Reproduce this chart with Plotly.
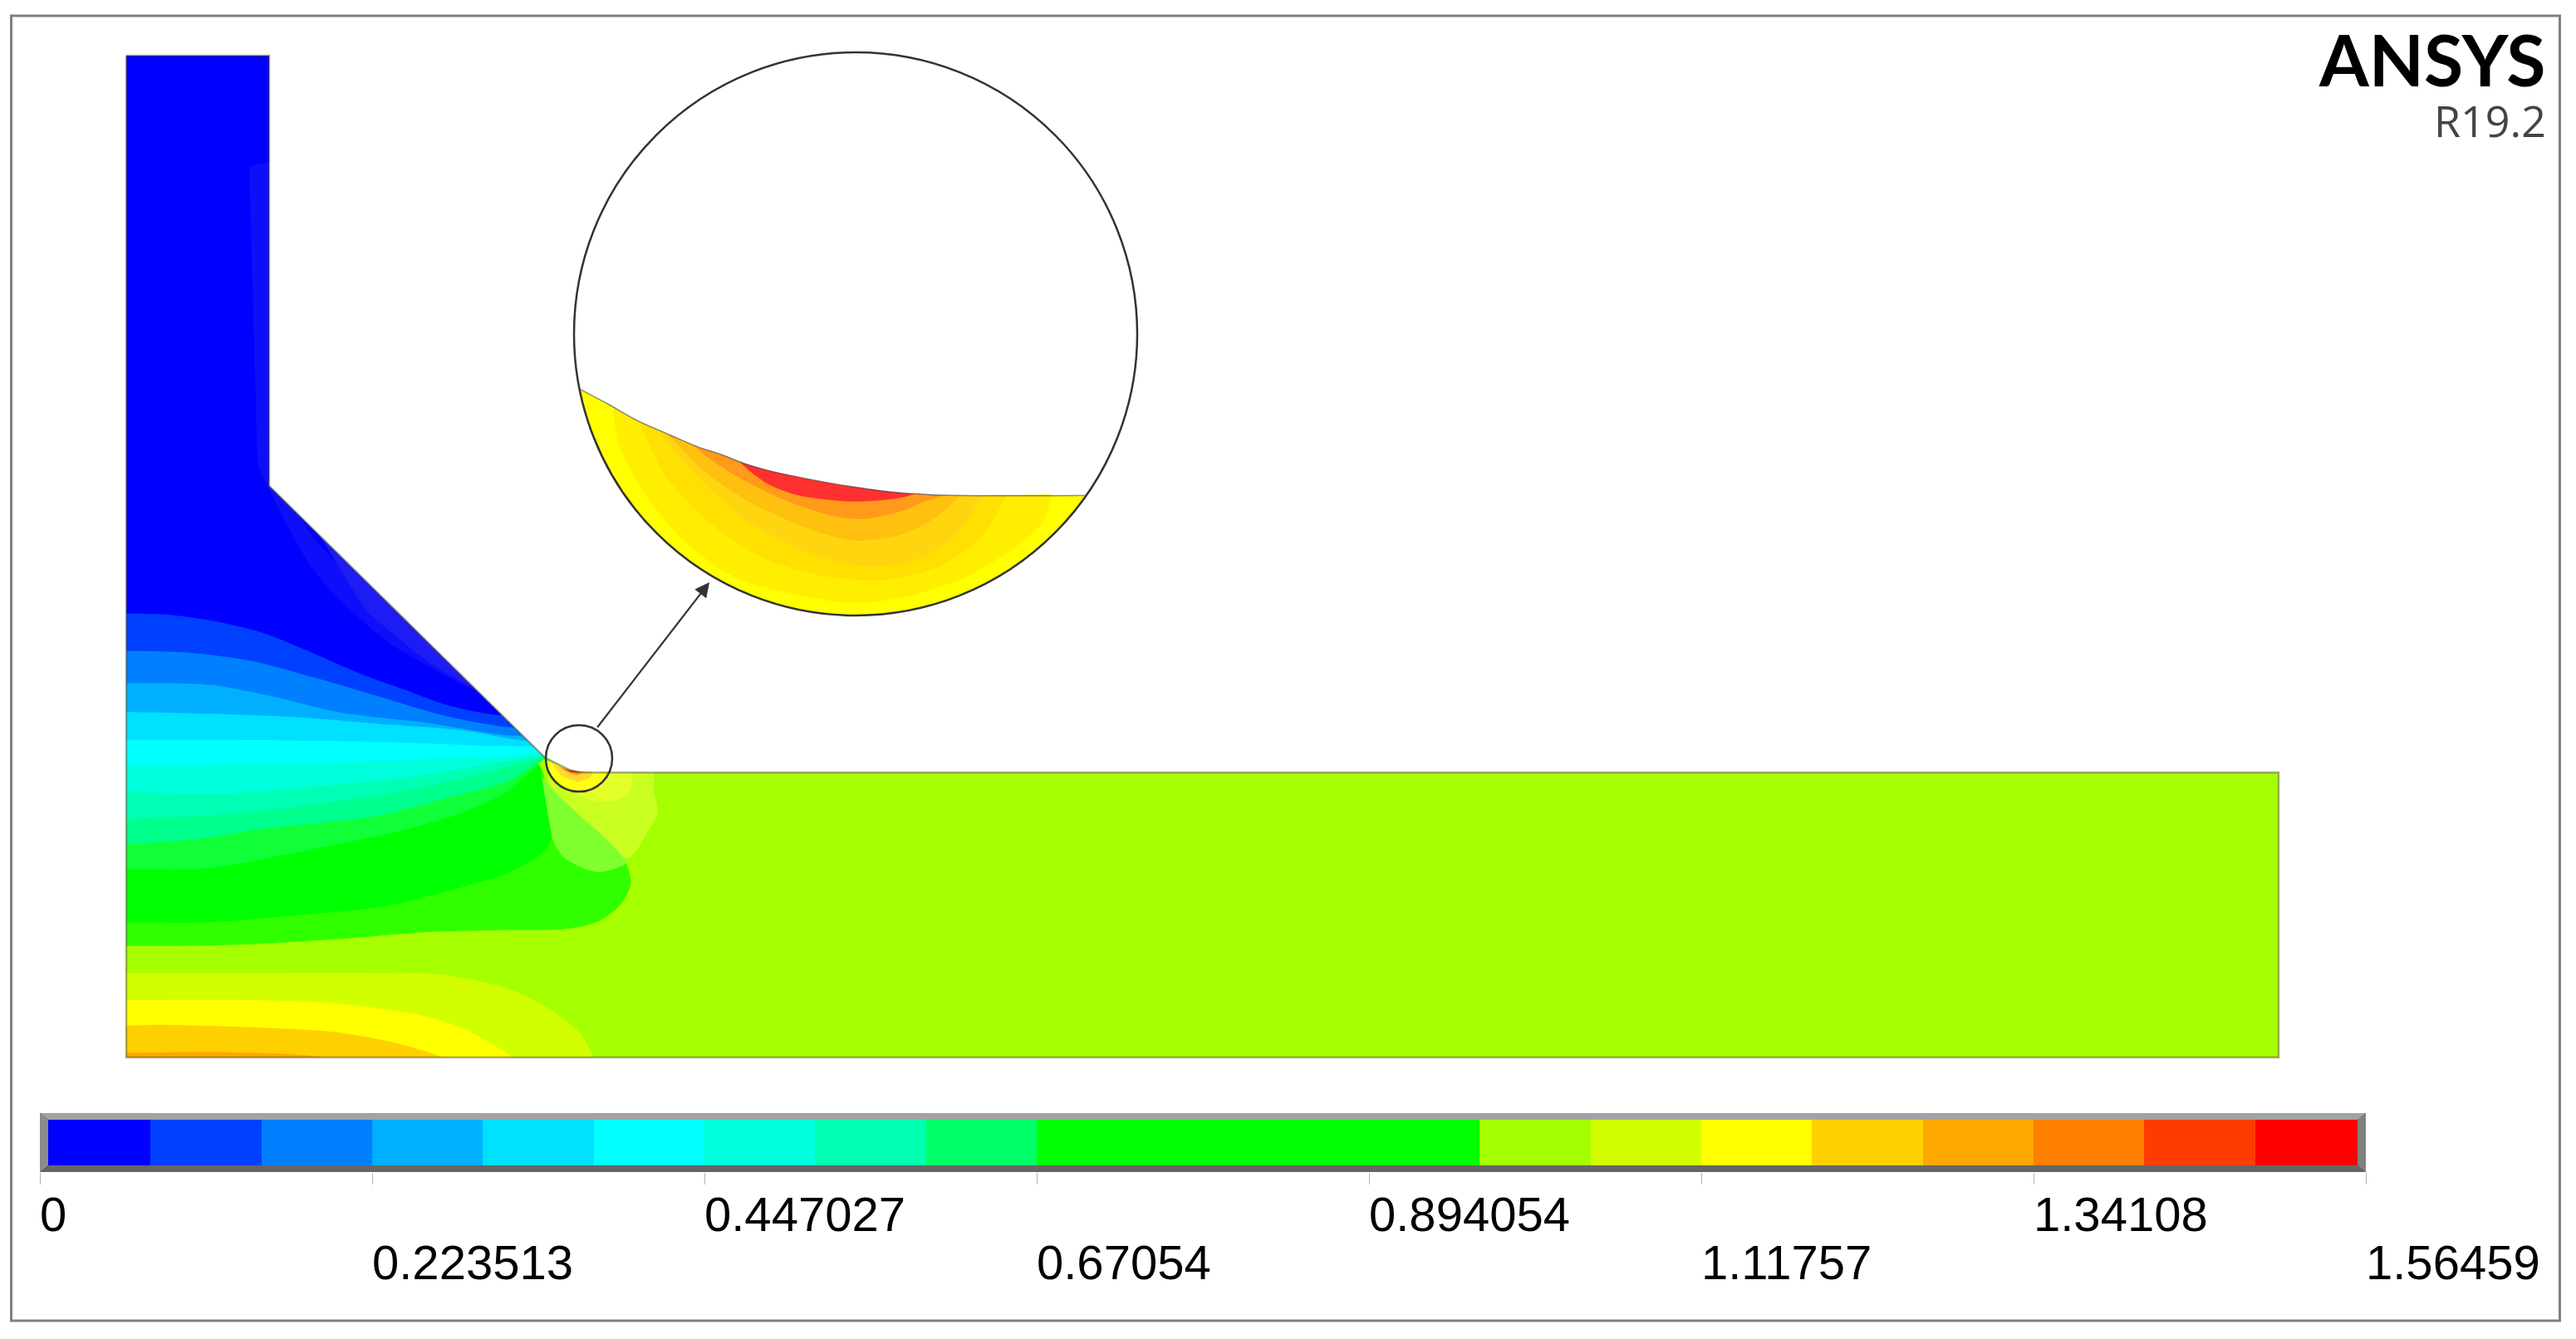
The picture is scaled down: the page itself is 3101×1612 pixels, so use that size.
import numpy as np
import plotly.graph_objects as go

W, H = 3101, 1612

# ---- colour legend -------------------------------------------------------
legend_max = 1.56459
band_colors = ["#0000ff", "#0040ff", "#0080ff", "#00b0ff", "#00e0ff", "#00ffff", "#00ffdc", "#00ffb0",
               "#00ff66", "#00ff00", "#00ff00", "#00ff00", "#00ff00", "#a4ff00", "#d2ff00", "#ffff00",
               "#ffd000", "#ffa800", "#ff8000", "#ff3c00", "#ff0000"]
tick_values = [0, 0.223513, 0.447027, 0.67054, 0.894054, 1.11757, 1.34108, 1.56459]
tick_labels = ["0", "0.223513", "0.447027", "0.67054", "0.894054", "1.11757", "1.34108", "1.56459"]

# ---- model outline, picture pixels ---------------------------------------
domain_x = [152, 324, 324, 656, 686, 698, 2743, 2743, 152]
domain_y = [67, 67, 585, 912, 927, 930, 930, 1273, 1273]

# ---- contour boundaries (crop units) --------------------------------------
# lower-left warm bands
warm_d0 = [(40,1155),(101,1155),(400,1155),(700,1155),(850,1160),(1000,1200),(1100,1260),(1170,1330),(1205,1405),(1225,1500),(40,1650)]
warm_ff = [(40,1235),(101,1235),(400,1235),(600,1245),(800,1280),(900,1320),(1015,1405),(1080,1480),(40,1650)]
warm_d8 = [(40,1310),(101,1310),(200,1308),(400,1315),(600,1330),(750,1365),(850,1405),(930,1470),(40,1650)]
warm_a8 = [(40,1390),(101,1390),(300,1388),(500,1395),(570,1405),(640,1440),(40,1650)]
# pale patches near the throat (crop 4)
blob_outer = [(60,40),(435,40),(440,120),(455,200),(425,265),(345,370),(200,280),(60,120)]
blob_inner = [(120,40),(345,40),(365,100),(350,135),(290,165),(200,155),(130,120)]
lens = [(35,70),(70,115),(120,165),(190,230),(270,300),(330,365),(345,385),(240,420),(120,370),(75,300),(50,180)]
green_outer = [(40,1075),(101,1075),(200,1075),(400,1070),(600,1055),(800,1035),(1000,1028),(1140,1025),(1220,1000),(1270,950),
               (1292,890),(1280,830),(1200,760),(1100,620),(1075,540),(1000,530),(40,520)]
green_pure = [(40,1005),(101,1005),(300,1005),(500,985),(700,960),(900,900),(1000,860),(1075,810),(1105,760),(1100,710),(1085,600),
              (1075,540),(1000,530),(40,520)]
# cold bands, each from beyond the left wall to beyond the sloped wall
cold_levels = [
    ("#10ff38", [(40,848),(101,848),(300,845),(500,800),(750,735),(900,680),(1000,620),(1090,522),(1140,480)]),
    ("#00ff8c", [(40,775),(101,775),(300,755),(420,730),(700,690),(870,635),(1000,590),(1090,520),(1140,478)]),
    ("#00ffb4", [(40,700),(101,700),(300,690),(500,665),(750,620),(950,565),(1087,516),(1140,500)]),
    ("#00ffdc", [(40,620),(101,620),(300,628),(500,610),(750,580),(1000,530),(1084,512),(1140,490)]),
    ("#00ffff", [(40,545),(101,545),(300,540),(550,535),(800,525),(1078,505),(1140,482)]),
    ("#00e0ff", [(40,467),(101,467),(400,468),(700,473),(1062,485),(1130,470)]),
    ("#00b0ff", [(40,385),(101,385),(300,390),(500,400),(700,420),(900,440),(1049,470),(1120,455)]),
    ("#0080ff", [(40,300),(101,300),(300,305),(450,340),(600,385),(800,415),(1037,455),(1110,430)]),
    ("#0040ff", [(40,205),(101,205),(250,210),(400,235),(550,285),(700,340),(850,395),(1017,430),(1090,410)]),
    ("#0000ff", [(40,95),(101,95),(200,98),(300,115),(420,150),(540,210),(650,270),(760,320),(860,365),(988,395),(1060,385)]),
]
# faintly lighter mesh-tinted areas in the cold region (picture pixels)
tint_edge = [(300,200),(360,200),(360,620),(700,900),(612,852),(470,775),(380,690),(310,560)]
tint_wall = [(382,640),(470,725),(540,785),(610,855),(660,905),(600,846),(520,800),(440,735)]
tints = [(tint_edge, "#0e0efb"), (tint_wall, "#1e1cf4")]

# magnified view: wall, then the level outlines
inset_wall = [(80,908),(150,945),(230,990),(310,1025),(380,1055),(440,1075),(500,1098),(570,1118),(650,1135),
              (760,1155),(870,1170),(930,1175),(980,1178),(1050,1180),(1370,1180)]
inset_levels = [
    ("#ffee00", [(160,900),(165,950),(180,1050),(250,1180),(350,1300),(480,1390),(620,1430),(780,1455),(900,1440),(1050,1395),(1180,1320),(1260,1250),(1285,1180),(1290,1140)]),
    ("#ffe000", [(220,950),(240,1010),(300,1130),(400,1240),(550,1340),(700,1385),(860,1395),(1000,1360),(1100,1290),(1170,1180),(1185,1140)]),
    ("#ffd510", [(270,985),(300,1040),(380,1130),(500,1240),(650,1320),(800,1360),(920,1350),(1030,1290),(1110,1180),(1130,1140)]),
    ("#ffc010", [(280,1000),(330,1050),(400,1120),(520,1200),(680,1270),(780,1295),(900,1280),(990,1235),(1050,1180),(1080,1140)]),
    ("#ff9a1a", [(350,1030),(390,1070),(480,1130),(600,1190),(720,1230),(800,1240),(900,1220),(960,1195),(1010,1178),(1050,1140)]),
    ("#ff3030", [(460,1060),(500,1105),(560,1150),(640,1180),(770,1195),(870,1190),(935,1175),(970,1140)]),
]
# small view at the throat (crop 6)
small_levels = [
    ("#ffff10", [(110,225),(200,262),(235,270),(340,268),(320,300),(280,330),(235,338),(190,330),(150,305),(125,270)]),
    ("#ffd830", [(135,238),(200,262),(280,268),(270,290),(225,305),(170,285)]),
    ("#ff9020", [(160,250),(200,262),(250,268),(225,280),(190,270)]),
    ("#ff2010", [(180,257),(200,262),(235,270),(205,270)]),
]
big_circle = (1030, 402, 339)
small_circle = (697, 913, 40)


def crop1(pts):
    return [100 + p[0] / 1.96 for p in pts], [700 + p[1] / 2.45 for p in pts]

def crop2(pts):
    return [660 + p[0] / 2.12 for p in pts], [40 + p[1] / 2.12 for p in pts]

def crop4(pts):
    return [640 + p[0] / 3 for p in pts], [910 + p[1] / 3 for p in pts]

def crop6(pts):
    return [620 + p[0] / 3 for p in pts], [840 + p[1] / 3 for p in pts]

fig = go.Figure()

def poly(x, y, color, smooth=True):
    line = dict(width=0, shape="spline", smoothing=0.8, simplify=False) if smooth else dict(width=0)
    fig.add_trace(go.Scatter(x=list(x), y=list(y), mode="lines", fill="toself", fillcolor=color,
                             line=line, hoverinfo="skip", showlegend=False, xaxis="x", yaxis="y"))

poly(domain_x, domain_y, "#a6ff00", smooth=False)
for pts, col in [(warm_d0, "#d2ff00"), (warm_ff, "#ffff00"), (warm_d8, "#ffd000"), (warm_a8, "#ffa800")]:
    poly(*crop1(pts), col)
poly(*crop4(blob_outer), "#c8ff20")
poly(*crop4(blob_inner), "#e2ff28")
poly(*crop1(green_outer), "#30ff00")
poly(*crop4(lens), "#80ff30")
poly(*crop1(green_pure), "#00ff00")
for col, pts in cold_levels:
    xs, ys = crop1(pts)
    poly(xs + [1000, 60], ys + [30, 30], col)
for pts, col in tints:
    poly([p[0] for p in pts], [p[1] for p in pts], col)

# white around the model keeps the smoothed boundaries inside its walls
poly([0, 152, 152, 0], [0, 0, H, H], "white", smooth=False)
poly([0, 2760, 2760, 0], [0, 0, 67, 67], "white", smooth=False)
poly([0, 2760, 2760, 0], [1273, 1273, H, H], "white", smooth=False)
poly([324, 324, 656, 686, 698, 2760, 2760], [0, 585, 912, 927, 930, 930, 0], "white", smooth=False)

# magnified view
cx, cy, r = big_circle
wx, wy = crop2(inset_wall)
a0 = np.arctan2(wy[-1] - cy, wx[-1] - cx)
a1 = np.arctan2(wy[0] - cy, wx[0] - cx)
ang = np.linspace(a0, a1, 90)
poly(wx + list(cx + r * np.cos(ang)), wy + list(cy + r * np.sin(ang)), "#ffff00", smooth=False)
for col, pts in inset_levels:
    poly(*crop2(pts), col)
ang2 = np.linspace(a0, a1 - 2 * np.pi, 90)
poly(wx + list(cx + (r + 2) * np.cos(ang2)), wy + list(cy + (r + 2) * np.sin(ang2)), "white")

for col, pts in small_levels:
    poly(*crop6(pts), col, smooth=False)

# outline of the model
fig.add_trace(go.Scatter(x=domain_x + domain_x[:1], y=domain_y + domain_y[:1], mode="lines",
                         line=dict(color="rgba(70,70,40,0.45)", width=2.5), hoverinfo="skip", showlegend=False))
fig.add_trace(go.Scatter(x=wx, y=wy, mode="lines", line=dict(color="rgba(50,50,50,0.55)", width=1.5, shape="spline", smoothing=0.8),
                         hoverinfo="skip", showlegend=False))

# legend bar through its own axis
step = legend_max / len(band_colors)
fig.add_trace(go.Bar(x=[(i + 0.5) * step for i in range(len(band_colors))], y=[1] * len(band_colors), width=step,
                     marker=dict(color=band_colors, line=dict(width=0)), xaxis="x2", yaxis="y2",
                     hoverinfo="skip", showlegend=False))

shapes = [
    dict(type="rect", xref="x", yref="y", x0=13.5, x1=3081.5, y0=19, y1=1590, line=dict(color="#808080", width=3)),
    dict(type="circle", xref="x", yref="y", x0=cx - r, x1=cx + r, y0=cy - r, y1=cy + r, line=dict(color="#333333", width=2.5)),
    dict(type="circle", xref="x", yref="y", x0=small_circle[0] - small_circle[2], x1=small_circle[0] + small_circle[2],
         y0=small_circle[1] - small_circle[2], y1=small_circle[1] + small_circle[2], line=dict(color="#333333", width=2.5)),
    # bevel of the legend bar
    dict(type="path", xref="x", yref="y", path="M48,1340 L2848,1340 L2838,1348 L58,1348 Z", fillcolor="#a3a3a3", line=dict(width=0)),
    dict(type="path", xref="x", yref="y", path="M48,1411 L2848,1411 L2838,1403 L58,1403 Z", fillcolor="#666666", line=dict(width=0)),
    dict(type="path", xref="x", yref="y", path="M48,1340 L58,1348 L58,1403 L48,1411 Z", fillcolor="#8c8c8c", line=dict(width=0)),
    dict(type="path", xref="x", yref="y", path="M2848,1340 L2838,1348 L2838,1403 L2848,1411 Z", fillcolor="#808080", line=dict(width=0)),
]

ann = []
for i, (v, t) in enumerate(zip(tick_values, tick_labels)):
    ann.append(dict(x=v, y=1461 if i % 2 == 0 else 1519, xref="x2", yref="y", text=t, showarrow=False, xanchor="left",
                    yanchor="middle", xshift=-2, font=dict(family="Liberation Sans", size=58, color="#000000")))
ann.append(dict(x=3066, y=70, xref="x", yref="y", text="<b>ANSYS</b>", showarrow=False, xanchor="right", yanchor="middle",
                font=dict(family="Lato", size=86, color="#000000")))
ann.append(dict(x=3067, y=144, xref="x", yref="y", text="R19.2", showarrow=False, xanchor="right", yanchor="middle",
                font=dict(family="Open Sans", size=52, color="#444444")))
ann.append(dict(x=854, y=701, ax=718, ay=877, xref="x", yref="y", axref="x", ayref="y", text="", showarrow=True,
                arrowhead=2, arrowsize=1.6, arrowwidth=2.2, arrowcolor="#333333"))

fig.update_layout(
    width=W, height=H, margin=dict(l=0, r=0, t=0, b=0), paper_bgcolor="white", plot_bgcolor="rgba(0,0,0,0)",
    showlegend=False, shapes=shapes, annotations=ann, bargap=0,
    xaxis=dict(range=[0, W], visible=False, domain=[0, 1], fixedrange=True),
    yaxis=dict(range=[H, 0], visible=False, domain=[0, 1], fixedrange=True),
    xaxis2=dict(range=[0, legend_max], domain=[48 / W, 2848 / W], anchor="y2", tickvals=tick_values, ticktext=[""] * 8,
                ticks="outside", ticklen=14, tickwidth=1, tickcolor="#b4b4b4", showgrid=False, zeroline=False, showline=False,
                fixedrange=True),
    yaxis2=dict(range=[0, 1], domain=[1 - 1411 / H, 1 - 1340 / H], anchor="x2", visible=False, fixedrange=True),
)

fig.write_html("out.html", config=dict(displayModeBar=False),
               post_script="document.body.style.margin='0';document.body.style.overflow='hidden';window.dispatchEvent(new Event('resize'));")
